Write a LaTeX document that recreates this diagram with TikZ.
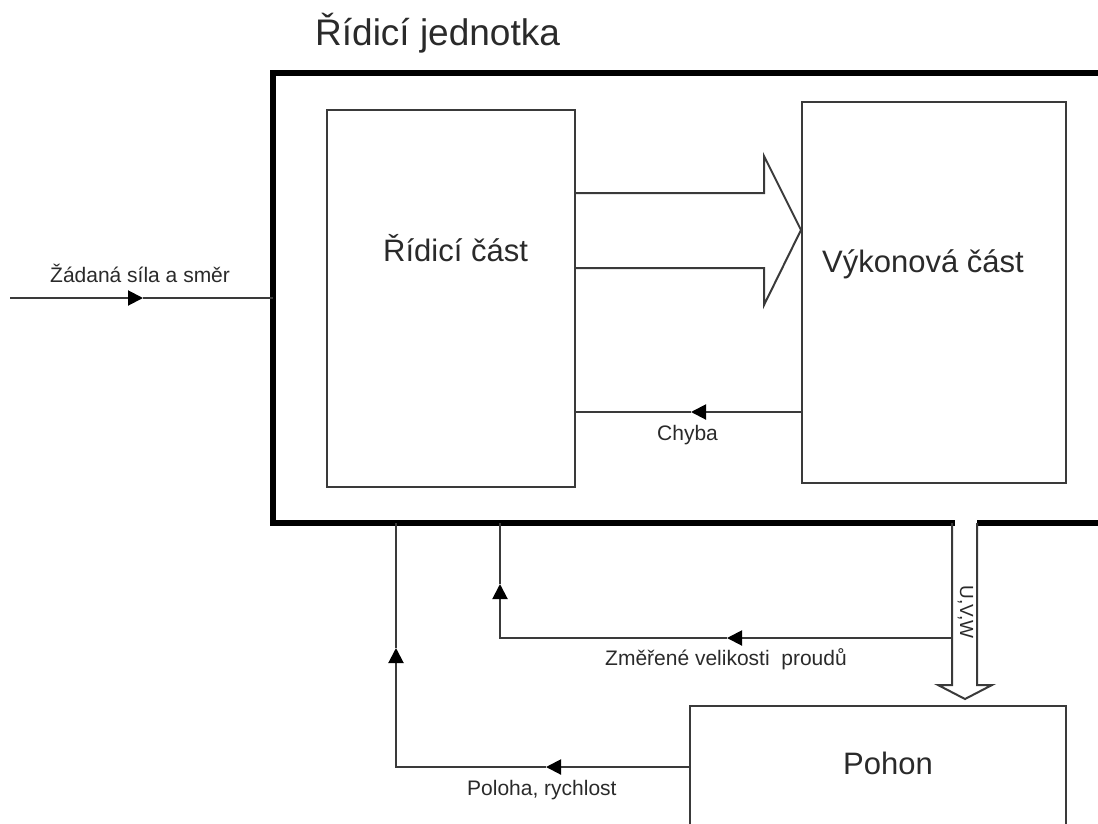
\documentclass[tikz,border=0pt]{standalone}
\usepackage{fontspec}
\setmainfont{Liberation Sans}
\usetikzlibrary{arrows.meta}
\definecolor{ln}{HTML}{3A3A3A}
\definecolor{tx}{HTML}{2A2A2A}
\tikzset{
  box/.style={draw=ln, line width=2pt, inner sep=0pt, fill=none},
  thin/.style={draw=ln, line width=2pt},
  thick/.style={draw=black, line width=5.5pt},
  tip/.style={-{Triangle[length=15pt,width=15pt,color=black]}, draw=ln, line width=2pt},
  small/.style={text=tx, font=\fontsize{21pt}{24pt}\selectfont, inner sep=0pt},
  big/.style={text=tx, font=\fontsize{31pt}{36pt}\selectfont, inner sep=0pt},
  title/.style={text=tx, font=\fontsize{37pt}{42pt}\selectfont, inner sep=0pt},
}
\begin{document}
\begin{tikzpicture}[x=1pt,y=-1pt]
\useasboundingbox (0,0) rectangle (1098,823);
\clip (0,0) rectangle (1098,823);
% boxes
\node[box, minimum width=248pt, minimum height=377pt] (rc) at (451,298.5) {};
\node[box, minimum width=264pt, minimum height=381pt] (vc) at (934,292.5) {};
\node[box, minimum width=376pt, minimum height=140pt] (po) at (878,776) {};
% outer box coordinates
\coordinate (otr) at (1120,73);
\coordinate (otl) at (273,73);
\coordinate (obl) at (273,523);
\coordinate (ob1) at (952,523);
\coordinate (ob2) at (977,523);
\coordinate (obr) at (1120,523);
\draw[thick, line cap=rect] (otr) -- (otl) -- (obl) -- (ob1);
\draw[thick] (ob2) -- (obr);
% big arrow from rc to vc
\coordinate (a1) at (rc.east |- 0,193);
\coordinate (a7) at (rc.east |- 0,268);
\draw[thin, line join=miter] (a1) -- (764,193) -- (764,156) -- (vc.west |- 0,230) -- (764,305) -- (764,268) -- (a7);
% UVW arrow
\draw[thin, line join=miter] (ob1) -- (952,685) -- (938,685) -- (965,699) -- (992,685) -- (977,685) -- (ob2);
\node[small, rotate=-90, font=\fontsize{19pt}{22pt}\selectfont] (uvw) at (965.5,612) {U,V,W};
% input
\coordinate (in0) at (10,298);
\coordinate (in1) at (143,298);
\draw[tip] (in0) -- (in1);
\draw[thin] (in1) -- (obl |- in1);
\node[small, anchor=base west] (lin) at (50,282) {Žádaná síla a směr};
% Chyba
\coordinate (ch1) at (691,412);
\draw[tip] (vc.west |- ch1) -- (ch1);
\draw[thin] (ch1) -- (rc.east |- ch1);
\node[small, anchor=base west] (lch) at (657,440) {Chyba};
% currents
\coordinate (cu0) at (ob1 |- 0,638);
\coordinate (cu1) at (727,638);
\coordinate (cu2) at (500,638);
\coordinate (cu3) at (500,584);
\coordinate (cu4) at (500,523);
\draw[tip] (cu0) -- (cu1);
\draw[tip] (cu1) -- (cu2) -- (cu3);
\draw[thin] (cu3) -- (cu4);
\node[small, anchor=base west] (lcu) at (605,665) {Změřené velikosti\ \ proudů};
% position/speed
\coordinate (ps0) at (po.west |- 0,767);
\coordinate (ps1) at (546,767);
\coordinate (ps2) at (396,767);
\coordinate (ps3) at (396,648);
\coordinate (ps4) at (396,523);
\draw[tip] (ps0) -- (ps1);
\draw[tip] (ps1) -- (ps2) -- (ps3);
\draw[thin] (ps3) -- (ps4);
\node[small, anchor=base west] (lps) at (467,795) {Poloha, rychlost};
% labels
\node[title, anchor=base west] (ltitle) at (315,45) {Řídicí jednotka};
\node[big, anchor=base west] (lrc) at (383,261) {Řídicí část};
\node[big, anchor=base west] (lvc) at (822,272) {Výkonová část};
\node[big, anchor=base west] (lpo) at (843,774) {Pohon};
\end{tikzpicture}
\end{document}
